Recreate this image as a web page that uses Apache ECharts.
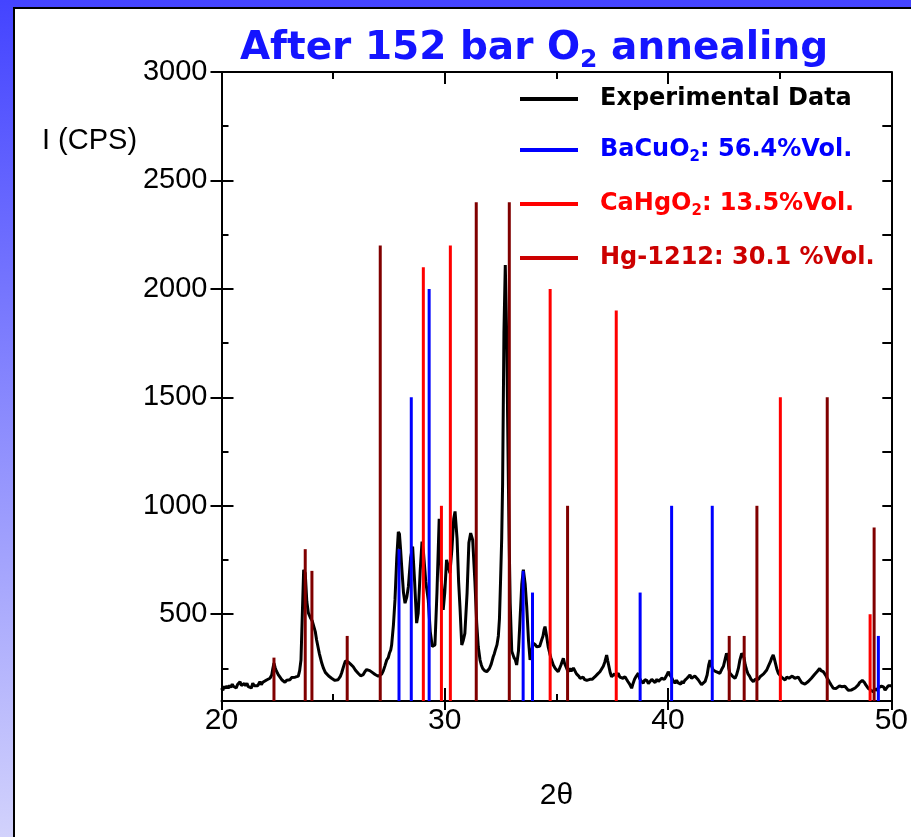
<!DOCTYPE html>
<html>
<head>
<meta charset="utf-8">
<script src="https://cdn.jsdelivr.net/npm/echarts@6/dist/echarts.min.js"></script>
<style>
html,body{margin:0;padding:0;overflow:hidden;width:911px;height:837px;}
#bg{position:absolute;left:0;top:0;width:911px;height:837px;background:linear-gradient(#4444ff,#d2d2fc);}
#panel{position:absolute;left:13px;top:7px;width:910px;height:840px;background:#fff;border-left:2px solid #000;border-top:2px solid #000;}
#main{position:absolute;left:0;top:0;width:911px;height:837px;}
</style>
</head>
<body>
<div id="bg"></div>
<div id="panel"></div>
<div id="main"></div>
<script>
// ---- data ----
const titleText = 'After 152 bar O2 annealing';
const xTickLabels = [20, 30, 40, 50];
const yTickLabels = [500, 1000, 1500, 2000, 2500, 3000];
const yMinorTicks = [250, 750, 1250, 1750, 2250, 2750];
const yRightTicks = [250, 500, 750, 1000, 1250, 1500, 1750, 2000, 2250, 2500, 2750];
const seriesNames = ['Experimental Data', 'BaCuO2', 'CaHgO2', 'Hg-1212'];
const legendLabels = ['Experimental Data', 'BaCuO2: 56.4%Vol.', 'CaHgO2: 13.5%Vol.', 'Hg-1212: 30.1 %Vol.'];

const experimental = [
[20.00,160],[20.06,150],[20.12,168],[20.18,158],[20.24,170],[20.30,158],[20.36,172],[20.42,162],[20.48,178],[20.53,168],[20.60,175],[20.66,160],[20.72,176],[20.78,168],[20.83,189],[20.89,172],[20.95,165],[21.02,180],[21.08,170],[21.14,182],[21.20,166],[21.28,170],[21.34,160],[21.40,182],[21.47,170],[21.55,178],[21.62,170],[21.72,189],[21.78,176],[21.85,186],[21.92,178],[22.02,197],[22.10,190],[22.17,205],[22.25,220],[22.30,250],[22.35,275],[22.40,255],[22.45,240],[22.54,222],[22.62,210],[22.70,198],[22.77,190],[22.84,186],[22.92,196],[23.00,200],[23.07,198],[23.14,208],[23.22,202],[23.30,210],[23.37,205],[23.44,215],[23.50,240],[23.56,289],[23.62,500],[23.68,705],[23.75,690],[23.82,560],[23.89,506],[24.00,480],[24.06,470],[24.11,466],[24.20,420],[24.26,381],[24.38,320],[24.49,275],[24.57,250],[24.65,232],[24.72,228],[24.80,215],[24.86,212],[24.93,205],[25.00,200],[25.08,195],[25.16,189],[25.22,198],[25.28,205],[25.33,215],[25.38,229],[25.44,250],[25.50,270],[25.55,285],[25.61,292],[25.67,280],[25.72,285],[25.78,270],[25.83,275],[25.90,258],[25.95,250],[26.00,242],[26.05,235],[26.12,228],[26.18,220],[26.23,216],[26.28,212],[26.35,222],[26.42,235],[26.50,245],[26.57,251],[26.64,240],[26.70,235],[26.75,232],[26.80,228],[26.88,222],[26.95,218],[27.02,214],[27.10,212],[27.18,225],[27.25,240],[27.32,262],[27.40,289],[27.47,300],[27.52,320],[27.58,335],[27.62,358],[27.70,450],[27.77,566],[27.85,760],[27.92,880],[27.97,870],[28.02,800],[28.07,720],[28.15,600],[28.22,551],[28.30,580],[28.37,627],[28.47,760],[28.56,812],[28.65,650],[28.74,459],[28.81,505],[28.90,700],[28.98,835],[29.05,780],[29.15,650],[29.26,566],[29.35,420],[29.44,351],[29.50,345],[29.56,358],[29.65,600],[29.75,940],[29.85,650],[29.93,520],[30.00,600],[30.08,751],[30.16,720],[30.23,689],[30.32,800],[30.40,940],[30.46,974],[30.55,850],[30.62,650],[30.68,535],[30.76,358],[30.83,380],[30.90,412],[31.00,600],[31.08,830],[31.16,874],[31.25,843],[31.35,650],[31.43,459],[31.50,350],[31.58,289],[31.64,265],[31.70,250],[31.78,240],[31.88,235],[31.94,240],[32.00,250],[32.08,270],[32.17,304],[32.22,318],[32.28,340],[32.34,360],[32.40,400],[32.45,480],[32.50,660],[32.55,850],[32.59,1100],[32.65,1800],[32.71,2110],[32.77,1800],[32.85,1100],[32.89,800],[32.93,550],[33.00,330],[33.05,315],[33.10,300],[33.16,290],[33.22,266],[33.30,330],[33.37,474],[33.45,640],[33.52,705],[33.60,640],[33.67,535],[33.75,380],[33.82,289],[33.88,320],[33.96,366],[34.05,360],[34.12,350],[34.19,343],[34.25,352],[34.30,360],[34.35,385],[34.40,400],[34.45,430],[34.49,443],[34.56,400],[34.63,351],[34.70,320],[34.75,300],[34.80,285],[34.86,266],[34.90,258],[34.95,250],[35.02,242],[35.08,235],[35.14,250],[35.20,265],[35.25,280],[35.31,297],[35.36,275],[35.42,260],[35.48,245],[35.53,235],[35.60,250],[35.66,238],[35.70,245],[35.76,252],[35.83,243],[35.90,225],[35.95,230],[36.00,215],[36.06,205],[36.13,197],[36.20,210],[36.25,200],[36.30,205],[36.36,195],[36.43,189],[36.50,200],[36.55,192],[36.60,200],[36.67,208],[36.73,212],[36.80,220],[36.85,225],[36.90,218],[36.95,235],[37.02,240],[37.10,260],[37.17,280],[37.25,312],[37.30,285],[37.35,260],[37.41,230],[37.47,212],[37.53,218],[37.60,225],[37.68,215],[37.77,228],[37.84,210],[37.90,218],[37.98,205],[38.07,212],[38.14,200],[38.20,190],[38.28,178],[38.37,159],[38.43,180],[38.50,200],[38.58,215],[38.67,228],[38.72,205],[38.78,195],[38.84,188],[38.89,182],[38.96,198],[39.05,195],[39.12,180],[39.20,185],[39.27,200],[39.34,197],[39.42,185],[39.50,200],[39.57,190],[39.64,197],[39.71,205],[39.78,212],[39.84,200],[39.90,205],[39.96,222],[40.01,235],[40.08,220],[40.15,210],[40.22,195],[40.31,182],[40.38,196],[40.44,185],[40.50,190],[40.57,178],[40.63,192],[40.68,182],[40.75,195],[40.80,200],[40.85,205],[40.92,212],[40.98,220],[41.05,205],[41.12,200],[41.20,215],[41.28,212],[41.35,198],[41.42,190],[41.50,175],[41.58,166],[41.66,190],[41.75,220],[41.82,265],[41.88,289],[41.95,260],[42.02,243],[42.08,250],[42.15,235],[42.22,240],[42.32,228],[42.40,245],[42.48,260],[42.55,290],[42.62,320],[42.68,300],[42.72,250],[42.77,228],[42.83,222],[42.88,215],[42.94,210],[43.00,205],[43.07,220],[43.15,250],[43.22,290],[43.30,320],[43.35,318],[43.40,300],[43.46,265],[43.52,243],[43.58,225],[43.65,215],[43.72,200],[43.82,189],[43.90,200],[43.98,205],[44.05,200],[44.12,212],[44.20,218],[44.28,225],[44.35,232],[44.42,243],[44.50,262],[44.58,280],[44.65,300],[44.71,312],[44.76,295],[44.82,270],[44.88,245],[44.94,228],[45.00,220],[45.08,210],[45.16,202],[45.24,197],[45.32,210],[45.42,205],[45.50,198],[45.56,215],[45.61,212],[45.68,205],[45.75,200],[45.83,210],[45.91,197],[45.98,185],[46.05,190],[46.13,178],[46.21,182],[46.28,190],[46.35,195],[46.42,205],[46.50,212],[46.56,222],[46.62,230],[46.68,236],[46.73,243],[46.79,250],[46.85,240],[46.90,245],[46.95,235],[47.02,225],[47.08,215],[47.13,205],[47.18,197],[47.24,185],[47.30,175],[47.35,168],[47.40,159],[47.47,165],[47.53,158],[47.60,165],[47.68,170],[47.77,166],[47.85,158],[47.92,168],[48.00,160],[48.07,150],[48.14,158],[48.22,151],[48.30,148],[48.38,160],[48.45,165],[48.52,174],[48.58,185],[48.65,190],[48.70,195],[48.74,197],[48.80,185],[48.85,175],[48.90,168],[48.96,159],[49.02,155],[49.08,150],[49.14,146],[49.19,143],[49.26,155],[49.35,150],[49.42,162],[49.49,159],[49.56,168],[49.65,165],[49.72,150],[49.80,158],[49.86,170],[49.93,166],[50.00,170]
];
const baCuO2 = [[27.95,800],[28.50,1500],[29.30,2000],[33.51,700],[33.93,600],[38.75,600],[40.16,1000],[41.98,1000],[49.42,400]];
const caHgO2 = [[29.04,2100],[29.85,1000],[30.25,2200],[34.72,2000],[37.68,1900],[45.03,1500],[49.05,500]];
const hg1212 = [[22.35,300],[23.75,800],[24.05,700],[25.63,400],[27.11,2200],[31.41,2400],[32.89,2400],[35.50,1000],[42.74,400],[43.41,400],[43.98,1000],[47.13,1500],[49.23,900]];

// ---- chart ----
const chart = echarts.init(document.getElementById('main'), null, {renderer: 'canvas'});
const black = '#000';
const axFont = 'Liberation Sans';
const lgFont = 'DejaVu Sans';
const lgRich = {
  sp: {width: 17},
  kk: {fontFamily: lgFont, fontWeight: 'bold', fontSize: 24, color: '#000', lineHeight: 30},
  kb: {fontFamily: lgFont, fontWeight: 'bold', fontSize: 24, color: '#0000ff', lineHeight: 30},
  sb: {fontFamily: lgFont, fontWeight: 'bold', fontSize: 15, color: '#0000ff', lineHeight: 30, verticalAlign: 'bottom'},
  kr: {fontFamily: lgFont, fontWeight: 'bold', fontSize: 24, color: '#ff0000', lineHeight: 30},
  sr: {fontFamily: lgFont, fontWeight: 'bold', fontSize: 15, color: '#ff0000', lineHeight: 30, verticalAlign: 'bottom'},
  kd: {fontFamily: lgFont, fontWeight: 'bold', fontSize: 24, color: '#cc0000', lineHeight: 30}
};
function richLabel(text, key, sub) {
  const i = text.indexOf('O2');
  if (i < 0) return '{sp| }{' + key + '|' + text + '}';
  return '{sp| }{' + key + '|' + text.slice(0, i + 1) + '}{' + sub + '|2}{' + key + '|' + text.slice(i + 2) + '}';
}
const legendKeys = [['kk', 'kk'], ['kb', 'sb'], ['kr', 'sr'], ['kd', 'kd']];
const legendColors = ['#000', '#0000ff', '#ff0000', '#cc0000'];
const titleParts = titleText.split('O2');
const plain = v => String(v);

const option = {
  animation: false,
  title: {
    text: '{a|' + titleParts[0] + 'O}{b|2}{a|' + titleParts[1] + '}',
    left: 529, top: 20, textAlign: 'center',
    textStyle: {
      rich: {
        a: {fontFamily: lgFont, fontWeight: 'bold', fontSize: 39, color: '#1414ff', lineHeight: 48},
        b: {fontFamily: lgFont, fontWeight: 'bold', fontSize: 25, color: '#1414ff', lineHeight: 48, verticalAlign: 'bottom'}
      }
    }
  },
  legend: {
    orient: 'vertical', left: 515, top: 82,
    itemWidth: 58, itemHeight: 4, itemGap: 27, icon: 'rect',
    selectedMode: false,
    data: seriesNames.map((n, i) => ({name: n, itemStyle: {color: legendColors[i]}})),
    formatter: function (name) {
      const i = seriesNames.indexOf(name);
      return richLabel(legendLabels[i], legendKeys[i][0], legendKeys[i][1]);
    },
    textStyle: {rich: lgRich}
  },
  grid: {left: 221.5, right: 19.5, top: 72, bottom: 136, containLabel: false},
  xAxis: [
    {
      type: 'value', min: 20, max: 50, interval: 10, position: 'bottom',
      axisLine: {onZero: false, lineStyle: {color: black, width: 2}},
      axisTick: {inside: true, length: 13, lineStyle: {color: black, width: 2}},
      minorTick: {show: true, splitNumber: 2, length: 7, lineStyle: {color: black, width: 2}},
      axisLabel: {fontFamily: axFont, fontSize: 30, color: black, margin: 5,
        customValues: xTickLabels, formatter: plain},
      splitLine: {show: false},
      name: '2θ', nameLocation: 'middle', nameGap: 80,
      nameTextStyle: {fontFamily: axFont, fontSize: 30, color: black}
    },
    {
      type: 'value', min: 20, max: 50, interval: 10, position: 'bottom',
      axisLine: {show: false, onZero: false},
      axisTick: {inside: false, length: 9, lineStyle: {color: black, width: 2}},
      axisLabel: {show: false}, splitLine: {show: false}
    },
    {
      type: 'value', min: 20, max: 50, interval: 10, position: 'top',
      axisLine: {onZero: false, lineStyle: {color: black, width: 2}},
      axisTick: {inside: true, length: 12, lineStyle: {color: black, width: 2}},
      minorTick: {show: true, splitNumber: 2, length: 7, lineStyle: {color: black, width: 2}},
      axisLabel: {show: false}, splitLine: {show: false}
    }
  ],
  yAxis: [
    {
      type: 'value', min: 100, max: 3000, position: 'left',
      axisLine: {show: true, onZero: false, lineStyle: {color: black, width: 2}},
      axisTick: {inside: true, length: 12, customValues: yTickLabels, lineStyle: {color: black, width: 2}},
      axisLabel: {fontFamily: axFont, fontSize: 29, color: black, margin: 14,
        customValues: yTickLabels, formatter: plain},
      splitLine: {show: false}
    },
    {
      type: 'value', min: 100, max: 3000, position: 'left',
      axisLine: {show: false, onZero: false},
      axisTick: {inside: false, length: 11, customValues: yTickLabels, lineStyle: {color: black, width: 2}},
      axisLabel: {show: false}, splitLine: {show: false}
    },
    {
      type: 'value', min: 100, max: 3000, position: 'left',
      axisLine: {show: false, onZero: false},
      axisTick: {inside: true, length: 7, customValues: yMinorTicks, lineStyle: {color: black, width: 2}},
      axisLabel: {show: false}, splitLine: {show: false}
    },
    {
      type: 'value', min: 100, max: 3000, position: 'right',
      axisLine: {show: true, onZero: false, lineStyle: {color: black, width: 2}},
      axisTick: {inside: true, length: 9, customValues: yRightTicks, lineStyle: {color: black, width: 2}},
      axisLabel: {show: false}, splitLine: {show: false}
    }
  ],
  graphic: [
    {type: 'text', left: 42, top: 126,
     style: {text: 'I (CPS)', font: '29px "Liberation Sans"', fill: '#000'}}
  ],
  series: [
    {name: seriesNames[0], type: 'line', data: experimental, showSymbol: false, symbol: 'none',
     lineStyle: {color: '#000', width: 3}, itemStyle: {color: '#000'}, z: 2, clip: true},
    {name: seriesNames[1], type: 'bar', data: baCuO2, barWidth: 3, barGap: '-100%',
     itemStyle: {color: '#0000ff'}, z: 3, clip: true},
    {name: seriesNames[2], type: 'bar', data: caHgO2, barWidth: 3, barGap: '-100%',
     itemStyle: {color: '#ff0000'}, z: 3, clip: true},
    {name: seriesNames[3], type: 'bar', data: hg1212, barWidth: 3, barGap: '-100%',
     itemStyle: {color: '#800000'}, z: 3, clip: true}
  ]
};
chart.setOption(option);
</script>
</body>
</html>
